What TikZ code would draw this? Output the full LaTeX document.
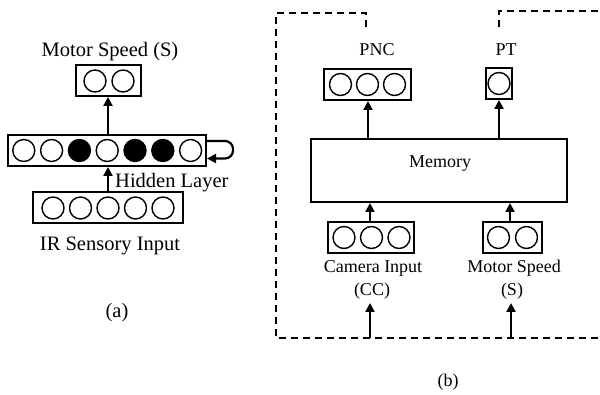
\documentclass[tikz,border=0pt]{standalone}
\usepackage{fontspec}
\setmainfont{Liberation Serif}
\usetikzlibrary{arrows.meta}
\begin{document}
\begin{tikzpicture}[x=1pt,y=-1pt,
  layer/.style={draw, line width=2pt, minimum height=31pt, inner sep=0pt},
  unit/.style={draw, circle, line width=1.4pt, minimum size=22pt, inner sep=0pt},
  active/.style={unit, fill=black},
  arr/.style={line width=2.2pt, -{Triangle[length=9pt,width=9pt]}},
  frame/.style={line width=1.8pt, dash pattern=on 7pt off 5pt},
  lblA/.style={font=\fontsize{20.5}{22}\selectfont, anchor=base, inner sep=0pt},
  lblB/.style={font=\fontsize{18}{20}\selectfont, anchor=base, inner sep=0pt}]
\useasboundingbox (0,0) rectangle (600,395);

% ---------- (a) recurrent controller ----------
\node[lblA] (tout) at (110,57) {Motor Speed (S)};
\node[layer, minimum width=65pt] (out) at (108.5,80.5) {};
\foreach \i in {0,1} \node[unit] (o\i) at (95+28*\i,81) {};

\node[layer, minimum width=198pt] (hid) at (107,150.5) {};
\foreach \i/\s in {0/unit,1/unit,2/active,3/unit,4/active,5/active,6/unit}
  \node[\s] (h\i) at (23.8+27.8*\i,150.5) {};
\node[lblA, anchor=base west] (thid) at (115,188) {Hidden Layer};

\node[layer, minimum width=150pt] (inp) at (108,208) {};
\foreach \i in {0,...,4} \node[unit] (i\i) at (53+27.5*\i,208) {};
\node[lblA] (tinp) at (110,251) {IR Sensory Input};
\node[lblA] (capa) at (117,318) {(a)};

\draw[arr] (hid.north -| 108,0) -- (out.south -| 108,0);
\draw[arr] (inp.north -| 108,0) -- (hid.south -| 108,0);
\draw[arr, rounded corners=8pt] ([yshift=9.5pt]hid.east) -- ++(26,0) -- ++(0,17.5) -- ([yshift=-8pt]hid.east);

% ---------- (b) memory module ----------
\node[lblB] (tpnc) at (377,56) {PNC};
\node[lblB] (tpt) at (506,56) {PT};
\node[layer, minimum width=87pt] (pnc) at (367.5,84.5) {};
\foreach \i in {0,1,2} \node[unit] (p\i) at (340.5+27*\i,84.5) {};
\node[layer, minimum width=26pt] (pt) at (499,83.5) {};
\node[unit] (pt0) at (499,83.5) {};

\node[draw, line width=2pt, minimum width=256pt, minimum height=63pt] (mem) at (439,170.5) {};
\node[lblB] (tmem) at (440,168) {Memory};

\node[layer, minimum width=86pt] (cam) at (371,237.5) {};
\foreach \i in {0,1,2} \node[unit] (c\i) at (344+27.5*\i,237.5) {};
\node[layer, minimum width=59pt] (spd) at (512.5,237.5) {};
\foreach \i in {0,1} \node[unit] (s\i) at (498.5+28*\i,237.5) {};

\node[lblB] (tcam) at (373,273) {Camera Input};
\node[lblB] (tcc) at (372,296) {(CC)};
\node[lblB] (tspd) at (514,273) {Motor Speed};
\node[lblB] (ts) at (512,296) {(S)};
\node[lblB] (capb) at (448,387) {(b)};

\draw[arr] (mem.north -| 368,0) -- (pnc.south -| 368,0);
\draw[arr] (mem.north -| pt.center) -- (pt.south);
\draw[arr] (cam.north -| 370,0) -- (mem.south -| 370,0);
\draw[arr] (spd.north -| 510,0) -- (mem.south -| 510,0);

% dashed feedback frame
\coordinate (fbl) at (276,338);
\coordinate (ftl) at (276,13);
\coordinate (ftm) at (366,13);
\coordinate (fpnc) at (366,27);
\coordinate (fpt) at (499,27);
\coordinate (ftr) at (499,11);
\coordinate (fre) at (600,11);
\coordinate (fbr) at (600,338);
\draw[frame] (fpnc) -- (ftm) -- (ftl) -- (fbl) -- (fbr);
\draw[frame] (fpt) -- (ftr) -- (fre);

\coordinate (fcam) at (370,338);
\coordinate (fspd) at (511,338);
\draw[arr] (fcam) -- (370,303);
\draw[arr] (fspd) -- (511,303);
\end{tikzpicture}
\end{document}
